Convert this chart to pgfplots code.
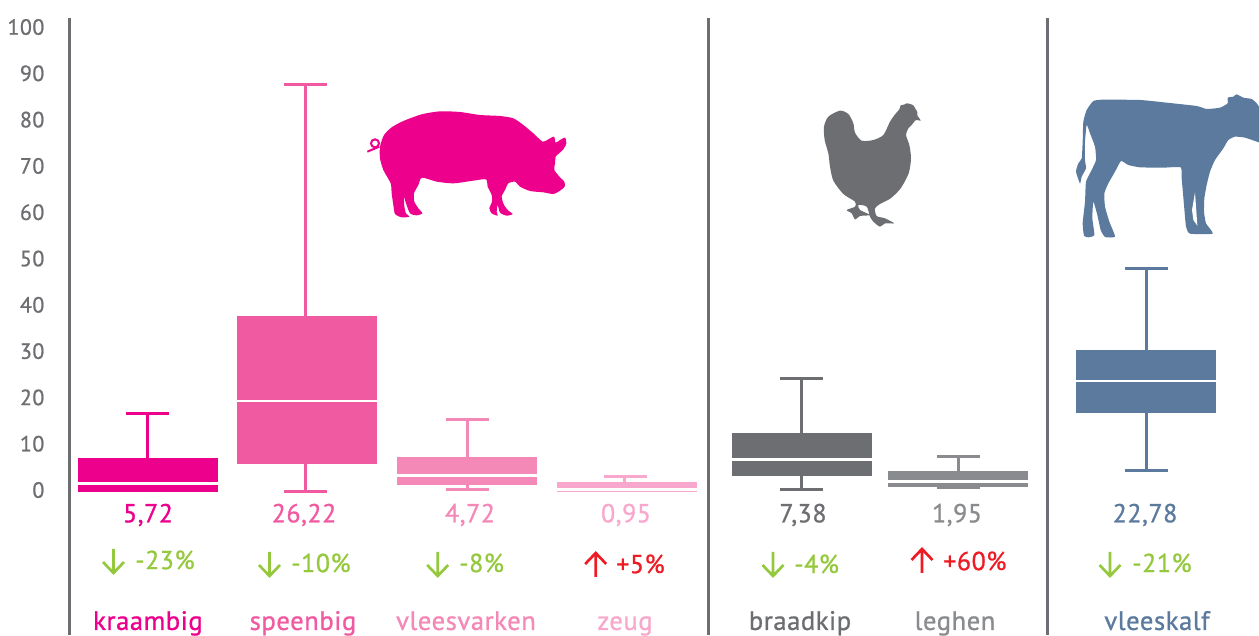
\documentclass[border=0pt]{standalone}
\usepackage{fontspec}
\usepackage{pgfplots}
\pgfplotsset{compat=1.18}
\setmainfont{PT Sans}[FakeBold=0.9,LetterSpace=2]
\definecolor{cA}{HTML}{EC008C}
\definecolor{cB}{HTML}{F05AA0}
\definecolor{cC}{HTML}{F488B6}
\definecolor{cD}{HTML}{F7A8CC}
\definecolor{cE}{HTML}{6D6E71}
\definecolor{cF}{HTML}{8A8B8E}
\definecolor{cG}{HTML}{5B7A9D}
\definecolor{grn}{HTML}{95C93D}
\definecolor{rd}{HTML}{ED1C24}
\pgfplotsset{
 wh/.style={draw=#1,line width=2.25pt,mark=none,forget plot},
 bo/.style={draw=none,fill=#1,mark=none,forget plot},
 me/.style={draw=white,line width=1.9pt,mark=none,forget plot}}
\newcommand{\dar}[3]{\draw[#3,line width=2pt,line cap=butt,line join=miter] (#1,#2)--(#1,#2+24) (#1-10.5,#2+13)--(#1,#2+24)--(#1+10.5,#2+13);}
\newcommand{\uar}[3]{\draw[#3,line width=2pt,line cap=butt,line join=miter] (#1,#2+24)--(#1,#2) (#1-10.5,#2+11)--(#1,#2)--(#1+10.5,#2+11);}
\newcommand{\vl}[3]{\node[#3,font=\fontsize{19.5}{19.5}\selectfont,inner sep=0pt] at (#1,515) {#2};}
\newcommand{\pc}[4]{\node[#4,anchor=west,font=\fontsize{19.5}{19.5}\selectfont,inner sep=0pt] at (#1,#2) {#3};}
\begin{document}
\begin{tikzpicture}
\path[use as bounding box] (0,0) rectangle (944.25pt,476.25pt);
\begin{axis}[at={(52.1pt,0pt)},anchor=south west,scale only axis,width=892.15pt,height=462.75pt,
 xmin=69.5,xmax=1259,ymin=-30.99,ymax=102.27,clip=false,
 axis y line*=left,axis x line*=bottom,
 x axis line style={draw=none},y axis line style={draw=cE,line width=2.25pt,-},
 ytick={0,10,...,100},major tick length=0pt,
 /pgf/number format/assume math mode=true,
 yticklabel style={text=cE,font=\fontsize{16.5}{16.5}\selectfont,xshift=-15.3pt,yshift=1.1pt},
 xtick={148,303,466,625,800,955,1157},
 xticklabels={\textcolor{cA}{kraambig},\textcolor{cB}{speenbig},\textcolor{cC}{vleesvarken},\textcolor{cD}{zeug},\textcolor{cE}{braadkip},\textcolor{cF}{leghen},\textcolor{cG}{vleeskalf}},
 xticklabel style={font=\fontsize{20}{20}\selectfont,anchor=base,yshift=3.8pt},
]
% kraambig
\addplot[wh=cA] coordinates {(148,7)(148,16.95)};
\addplot[wh=cA] coordinates {(126.5,16.95)(169.5,16.95)};
\addplot[bo=cA] coordinates {(78,-0.2)(218,-0.2)(218,7.24)(78,7.24)} --cycle;
\addplot[me] coordinates {(78,1.77)(218,1.77)};
% speenbig
\addplot[wh=cB] coordinates {(305.5,37)(305.5,87.9)};
\addplot[wh=cB] coordinates {(284,87.9)(327,87.9)};
\addplot[wh=cB] coordinates {(305.5,6)(305.5,0.1)};
\addplot[wh=cB] coordinates {(284,0.1)(327,0.1)};
\addplot[bo=cB] coordinates {(237,5.87)(377,5.87)(377,37.9)(237,37.9)} --cycle;
\addplot[me] coordinates {(237,19.55)(377,19.55)};
% vleesvarken
\addplot[wh=cC] coordinates {(468,7)(468,15.6)};
\addplot[wh=cC] coordinates {(446,15.6)(489,15.6)};
\addplot[wh=cC] coordinates {(468,1.6)(468,0.39)};
\addplot[wh=cC] coordinates {(446,0.39)(489,0.39)};
\addplot[bo=cC] coordinates {(397,1.47)(537,1.47)(537,7.45)(397,7.45)} --cycle;
\addplot[me] coordinates {(397,3.5)(537,3.5)};
% zeug
\addplot[wh=cD] coordinates {(625,2)(625,3.35)};
\addplot[wh=cD] coordinates {(604,3.35)(647,3.35)};
\addplot[bo=cD] coordinates {(557,-0.05)(697,-0.05)(697,2.05)(557,2.05)} --cycle;
\addplot[me] coordinates {(557,0.48)(697,0.48)};
% braadkip
\addplot[wh=cE] coordinates {(802,12)(802,24.5)};
\addplot[wh=cE] coordinates {(780.5,24.5)(823.5,24.5)};
\addplot[wh=cE] coordinates {(802,3.4)(802,0.47)};
\addplot[wh=cE] coordinates {(780.5,0.47)(823.5,0.47)};
\addplot[bo=cE] coordinates {(732,3.28)(872,3.28)(872,12.57)(732,12.57)} --cycle;
\addplot[me] coordinates {(732,6.95)(872,6.95)};
% leghen
\addplot[wh=cF] coordinates {(958,4)(958,7.67)};
\addplot[wh=cF] coordinates {(937,7.67)(980,7.67)};
\addplot[wh=cF] coordinates {(937,0.76)(980,0.76)};
\addplot[bo=cF] coordinates {(888,1.04)(1028,1.04)(1028,4.43)(888,4.43)} --cycle;
\addplot[me] coordinates {(888,2.2)(1028,2.2)};
% vleeskalf
\addplot[wh=cG] coordinates {(1146,30)(1146,48.16)};
\addplot[wh=cG] coordinates {(1124.5,48.16)(1167.5,48.16)};
\addplot[wh=cG] coordinates {(1146,17)(1146,4.64)};
\addplot[wh=cG] coordinates {(1124.5,4.64)(1167.5,4.64)};
\addplot[bo=cG] coordinates {(1076,16.95)(1216,16.95)(1216,30.56)(1076,30.56)} --cycle;
\addplot[me] coordinates {(1076,23.87)(1216,23.87)};
\end{axis}
\begin{scope}[x=0.75pt,y=-0.75pt,yshift=476.25pt]
\draw[cE,line width=2.25pt] (708.5,18)--(708.5,635) (1047,18)--(1047,635);
\vl{148}{5,72}{cA}\vl{304}{26,22}{cB}\vl{470}{4,72}{cC}\vl{626}{0,95}{cD}\vl{803}{7,38}{cE}\vl{957}{1,95}{cF}\vl{1145}{22,78}{cG}
\dar{113.5}{549}{grn}\pc{135}{560}{-23\%}{grn}
\dar{269.5}{552}{grn}\pc{291}{563}{-10\%}{grn}
\dar{437.7}{552}{grn}\pc{459}{563}{-8\%}{grn}
\uar{595.7}{553}{rd}\pc{616}{564}{+5\%}{rd}
\dar{773}{552}{grn}\pc{794}{564}{-4\%}{grn}
\uar{922}{549}{rd}\pc{943}{561}{+60\%}{rd}
\dar{1110}{552}{grn}\pc{1132}{563}{-21\%}{grn}
% pig
\begin{scope}[shift={(360,90)},x=0.25pt,y=-0.25pt]
\fill[cA] plot[smooth cycle,tension=0.4] coordinates {(60,170)(72,135)(95,112)(130,93)(185,73)(240,64)(300,66)(360,75)(420,78)(460,85)(490,105)(520,130)(548,155)(565,148)(582,140)(587,158)(600,150)(615,143)(619,160)(610,178)(595,192)(587,200)(585,220)(583,240)(600,262)(613,275)(614,290)(600,302)(580,312)(550,307)(510,303)(480,290)(465,275)(445,280)(435,300)(425,320)(432,345)(445,362)(458,372)(440,377)(420,368)(413,345)(410,365)(413,377)(395,370)(388,355)(396,335)(395,315)(383,290)(378,268)(340,272)(280,280)(230,275)(186,263)(175,285)(162,310)(163,335)(175,355)(187,370)(170,376)(150,370)(138,340)(132,322)(133,350)(138,370)(148,380)(125,382)(105,372)(100,345)(95,310)(92,280)(70,240)(60,205)};
\draw[cA,line width=1.5pt] (22,185)--(58,170) (45,160) circle[radius=12];
\end{scope}
% chicken
\begin{scope}[shift={(810,90)},x=0.25pt,y=-0.25pt]
\fill[cE] plot[smooth cycle,tension=0.45] coordinates {(268,58)(272,46)(282,44)(290,40)(300,42)(310,46)(316,56)(322,66)(322,76)(332,92)(318,90)(305,105)(295,115)(288,135)(298,165)(303,205)(296,250)(272,295)(242,325)(210,342)(195,355)(200,378)(225,385)(252,400)(225,400)(210,410)(190,395)(180,380)(170,350)(145,345)(150,360)(180,375)(150,378)(135,388)(125,370)(110,360)(135,350)(135,335)(100,312)(70,272)(60,230)(55,190)(44,150)(42,110)(55,80)(90,62)(115,72)(130,100)(135,128)(155,152)(190,150)(220,135)(240,95)(256,72)};
\end{scope}
% calf
\begin{scope}[shift={(1060,85)},x=0.25pt,y=-0.25pt]
\fill[cG] plot[smooth cycle,tension=0.3] coordinates {(80,75)(100,48)(130,44)(240,45)(320,53)(410,63)(440,72)(480,68)(503,55)(503,38)(520,35)(530,28)(550,38)(575,42)(590,55)(600,75)(600,168)(585,168)(555,158)(525,155)(505,165)(490,190)(465,225)(450,260)(440,300)(433,340)(432,380)(438,415)(458,446)(390,446)(378,425)(372,360)(365,280)(362,247)(310,248)(240,247)(205,240)(183,228)(165,260)(145,295)(133,325)(135,365)(148,410)(165,455)(135,456)(122,435)(112,390)(100,350)(97,400)(103,450)(85,457)(72,452)(68,415)(75,350)(78,290)(95,255)(108,225)(105,185)(90,145)(80,120)(75,170)(75,225)(78,250)(65,275)(60,296)(48,260)(55,235)(65,220)(68,170)(70,110)};
\fill[white] (405,322)--(412,422)--(400,405)--(396,375)--cycle;
\end{scope}
\end{scope}
\end{tikzpicture}
\end{document}
